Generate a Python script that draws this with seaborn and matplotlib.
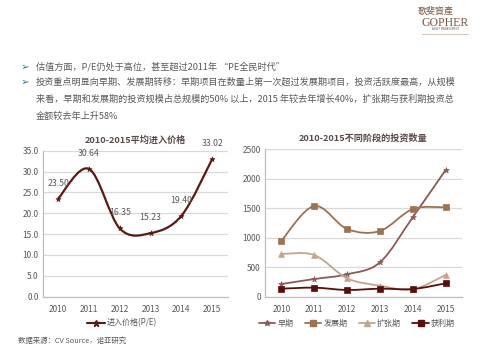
import numpy as np
import pandas as pd
import matplotlib
matplotlib.use("Agg")
import matplotlib.pyplot as plt
from matplotlib.path import Path
from matplotlib.patches import PathPatch
from matplotlib.lines import Line2D
import seaborn as sns

# ---------------- data ----------------
years = ["2010", "2011", "2012", "2013", "2014", "2015"]
pe_values = [23.50, 30.64, 16.35, 15.23, 19.40, 33.02]
pe_label = "进入价格(P/E)"

stage_names = ["早期", "发展期", "扩张期", "获利期"]
early = [215, 300, 380, 583, 1347, 2149]
growth = [950, 1538, 1148, 1114, 1487, 1516]
expansion = [724, 707, 312, 187, 125, 368]
profit = [136, 153, 114, 136, 130, 227]

left_title = "2010-2015平均进入价格"
right_title = "2010-2015不同阶段的投资数量"
bullet1 = "估值方面，P/E仍处于高位，甚至超过2011年 “PE全民时代”"
bullet2_lines = [
    "投资重点明显向早期、发展期转移：早期项目在数量上第一次超过发展期项目，投资活跃度最高，从规模",
    "来看，早期和发展期的投资规模占总规模的50% 以上，2015 年较去年增长40%，扩张期与获利期投资总",
    "金额较去年上升58%",
]
source_text = "数据来源：CV Source，诺亚研究"

# ---------------- style ----------------
sns.set_theme(style="white")
plt.rcParams["font.family"] = ["Noto Sans CJK SC", "DejaVu Sans"]
plt.rcParams["axes.unicode_minus"] = False

GRAY = "#595959"
GRID = "#D9D9D9"
SPINE = "#BFBFBF"

stage_colors = ["#8A5A58", "#9C7250", "#C2A68C", "#5A0E0C"]
stage_markers = ["*", "s", "^", "s"]
stage_msize = [4.0, 4.0, 4.0, 4.0]
pe_color = "#5A1A14"


def smooth_path(xs, ys):
    """Excel-like smoothed line: Catmull-Rom segments as cubic Beziers in data coordinates."""
    pts = np.column_stack([xs, ys]).astype(float)
    n = len(pts)
    verts = [pts[0]]
    codes = [Path.MOVETO]
    for i in range(n - 1):
        p0 = pts[i - 1] if i > 0 else pts[i]
        p1 = pts[i]
        p2 = pts[i + 1]
        p3 = pts[i + 2] if i + 2 < n else pts[i + 1]
        c1 = p1 + (p2 - p0) / 6.0
        c2 = p2 - (p3 - p1) / 6.0
        verts += [c1, c2, p2]
        codes += [Path.CURVE4] * 3
    return Path(verts, codes)


def style_axes(ax, ymax, ystep, fmt):
    ax.set_xlim(-0.5, 5.5)
    ax.set_ylim(0, ymax)
    ax.set_yticks(np.arange(0, ymax + ystep / 2, ystep))
    ax.set_yticklabels([fmt.format(v) for v in np.arange(0, ymax + ystep / 2, ystep)])
    ax.set_xticks(range(6))
    ax.set_xticklabels(years)
    ax.set_xticks(np.arange(-0.5, 6.0, 1.0), minor=True)
    ax.tick_params(axis="x", which="major", length=0, labelsize=6, colors=GRAY, pad=6)
    ax.tick_params(axis="x", which="minor", length=4, color=SPINE, width=0.8, direction="out")
    ax.tick_params(axis="y", which="major", length=0, labelsize=6, colors=GRAY, pad=3)
    ax.grid(axis="y", color=GRID, linewidth=0.9)
    ax.set_axisbelow(True)
    for s in ["top", "right"]:
        ax.spines[s].set_visible(False)
    for s in ["left", "bottom"]:
        ax.spines[s].set_color(SPINE)
        ax.spines[s].set_linewidth(0.9)
    ax.set_xlabel("")
    ax.set_ylabel("")


fig = plt.figure(figsize=(4.8, 3.6), dpi=100)
fig.patch.set_facecolor("white")

# ---------------- header text ----------------
TEAL = "#2E7F8F"
fig.text(21 / 480, 1 - 67 / 360, "➢", family=["DejaVu Sans"], fontsize=7.5, color=TEAL, va="center")
fig.text(36 / 480, 1 - 67 / 360, bullet1, fontsize=6.6, color=GRAY, va="center")
fig.text(21 / 480, 1 - 82 / 360, "➢", family=["DejaVu Sans"], fontsize=7.5, color=TEAL, va="center")
for i, line in enumerate(bullet2_lines):
    fig.text(36 / 480, 1 - (82 + 17.3 * i) / 360, line, fontsize=6.6, color=GRAY, va="center")

# logo
LOGO = "#7A5A48"
fig.text(436 / 480, 1 - 11 / 360, "歌斐資產", family=["Noto Sans CJK TC", "DejaVu Sans"],
         fontsize=6.5, color=LOGO, ha="center", va="center")
fig.text(445 / 480, 1 - 22.5 / 360, "GOPHER", family=["Liberation Serif", "DejaVu Serif"],
         fontsize=8.5, color=LOGO, ha="center", va="center")
fig.text(445 / 480, 1 - 29 / 360, "ASSET MANAGEMENT", family=["DejaVu Sans"],
         fontsize=1.8, color=LOGO, ha="center", va="center")
fig.add_artist(Line2D([422 / 480, 468 / 480], [1 - 33.5 / 360, 1 - 33.5 / 360],
                      color="#BFA898", linewidth=0.5))

# ---------------- left chart ----------------
axL = fig.add_axes([42.7 / 480, 1 - 296.7 / 360, 185 / 480, 146 / 360])
df_pe = pd.DataFrame({"x": range(6), "pe": pe_values})
style_axes(axL, 35, 5, "{:.1f}")
axL.add_patch(PathPatch(smooth_path(df_pe["x"], df_pe["pe"]), facecolor="none",
                        edgecolor=pe_color, linewidth=1.6, zorder=3))
sns.scatterplot(data=df_pe, x="x", y="pe", ax=axL, marker="*", s=14, color=pe_color,
                edgecolor=pe_color, linewidth=0.5, zorder=4, legend=False)
axL.set_xlabel("")
axL.set_ylabel("")
for xi, v in zip(df_pe["x"], df_pe["pe"]):
    axL.annotate(f"{v:.2f}", (xi, v), xytext=(0, 8), textcoords="offset points",
                 ha="center", va="bottom", fontsize=6.3, color=GRAY)
axL.set_title(left_title, fontsize=6.6, fontweight="bold", color="#5A4A48", pad=6)
hL = [Line2D([0], [0], color=pe_color, lw=1.5, marker="*", markersize=4.5)]
fig.legend(hL, [pe_label], loc="center", bbox_to_anchor=(122 / 480, 1 - 323 / 360),
           frameon=False, fontsize=5.8, handlelength=2.2, handletextpad=0.3,
           labelcolor=GRAY)

# ---------------- right chart ----------------
axR = fig.add_axes([265 / 480, 1 - 296.7 / 360, 197 / 480, 147.4 / 360])
style_axes(axR, 2500, 500, "{:.0f}")
series = [early, growth, expansion, profit]
long_rows = []
for name, vals in zip(stage_names, series):
    for xi, v in enumerate(vals):
        long_rows.append({"x": xi, "value": v, "stage": name})
df_stage = pd.DataFrame(long_rows)
for name, col, mk, ms in zip(stage_names, stage_colors, stage_markers, stage_msize):
    sub = df_stage[df_stage["stage"] == name]
    axR.add_patch(PathPatch(smooth_path(sub["x"].values, sub["value"].values), facecolor="none",
                            edgecolor=col, linewidth=1.3, zorder=3))
    sns.scatterplot(data=sub, x="x", y="value", ax=axR, marker=mk, s=ms ** 2 * 1.1, color=col,
                    edgecolor=col, linewidth=0.5, zorder=4, legend=False)
axR.set_xlabel("")
axR.set_ylabel("")
axR.set_title(right_title, fontsize=6.6, fontweight="bold", color="#5A4A48", pad=6)
hR = [Line2D([0], [0], color=c, lw=1.3, marker=m, markersize=3.8)
      for c, m in zip(stage_colors, stage_markers)]
fig.legend(hR, stage_names, loc="center", bbox_to_anchor=(357 / 480, 1 - 323 / 360), ncol=4,
           frameon=False, fontsize=5.8, handlelength=2.0, handletextpad=0.3, columnspacing=1.4,
           labelcolor=GRAY)

# ---------------- source ----------------
fig.text(18 / 480, 1 - 341 / 360, source_text, fontsize=5.3, color=GRAY, va="center")

fig.savefig("out.png", dpi=100, facecolor="white")
